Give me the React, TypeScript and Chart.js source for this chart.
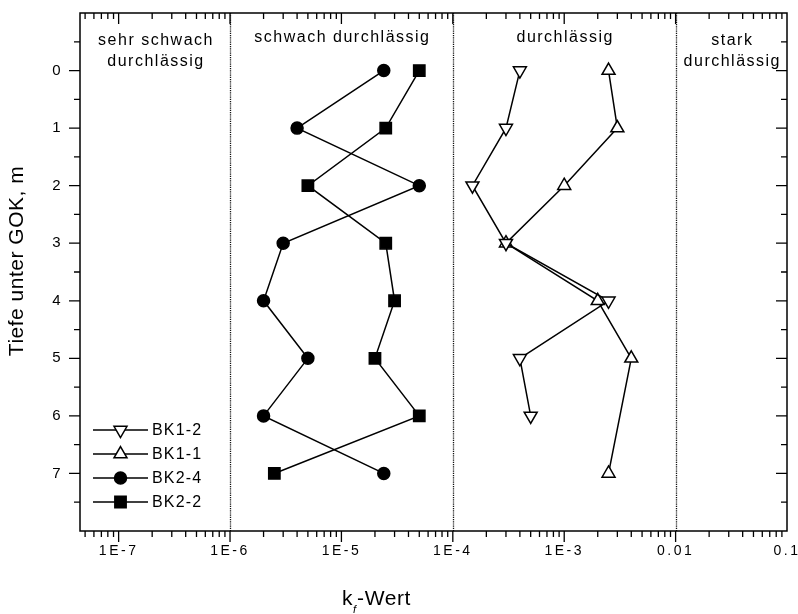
import { useEffect, useRef } from 'react';
import { Chart, registerables } from 'chart.js';
import { drawPoint } from 'chart.js/helpers';

Chart.register(...registerables);

const FONT = '"Liberation Sans", Arial, Helvetica, sans-serif';

// ---- data ----
const seriesLabels = ['BK1-2', 'BK1-1', 'BK2-4', 'BK2-2'];

const depthBK12 = [0, 1, 2, 3, 4, 5, 6];
const kfBK12 = [4e-4, 3e-4, 1.5e-4, 3e-4, 2.5e-3, 4e-4, 5e-4];

const depthBK11 = [0, 1, 2, 3, 4, 5, 7];
const kfBK11 = [2.5e-3, 3e-3, 1e-3, 3e-4, 2e-3, 4e-3, 2.5e-3];

const depthBK24 = [0, 1, 2, 3, 4, 5, 6, 7];
const kfBK24 = [2.4e-5, 4e-6, 5e-5, 3e-6, 2e-6, 5e-6, 2e-6, 2.4e-5];

const depthBK22 = [0, 1, 2, 3, 4, 5, 6, 7];
const kfBK22 = [5e-5, 2.5e-5, 5e-6, 2.5e-5, 3e-5, 2e-5, 5e-5, 2.5e-6];

const xTickValues = [1e-7, 1e-6, 1e-5, 1e-4, 1e-3, 1e-2, 1e-1];
const xTickLabels = ['1E-7', '1E-6', '1E-5', '1E-4', '1E-3', '0.01', '0.1'];
const yTickValues = [0, 1, 2, 3, 4, 5, 6, 7];
const yTickLabels = ['0', '1', '2', '3', '4', '5', '6', '7'];

const xMin = 4.5e-8;
const xMax = 0.1;
const yMin = -1;
const yMax = 8;

const boundaryValues = [1e-6, 1e-4, 1e-2];
const regionEdges = [xMin, 1e-6, 1e-4, 1e-2, xMax];
const regionLabels = [
  ['sehr schwach', 'durchlässig'],
  ['schwach durchlässig'],
  ['durchlässig'],
  ['stark', 'durchlässig'],
];

const yTitle = 'Tiefe unter GOK, m';
const xTitleMain = 'k';
const xTitleSub = 'f';
const xTitleRest = '-Wert';

const toPts = (xs: number[], ys: number[]) => xs.map((x, i) => ({ x, y: ys[i] }));

const zeroPad = (s: any) => {
  s.paddingTop = 0;
  s.paddingBottom = 0;
  s.paddingLeft = 0;
  s.paddingRight = 0;
};

const plotDecor = {
  id: 'plotDecor',
  beforeDraw(chart: any) {
    chart.ctx.letterSpacing = '2.5px';
  },
  beforeDatasetsDraw(chart: any) {
    const { ctx, chartArea } = chart;
    const xs = chart.scales.x;
    ctx.save();
    ctx.letterSpacing = '0px';
    ctx.strokeStyle = '#111';
    ctx.lineWidth = 1.3;
    ctx.setLineDash([1.2, 1]);
    boundaryValues.forEach((v) => {
      const px = Math.round(xs.getPixelForValue(v)) + 0.5;
      ctx.beginPath();
      ctx.moveTo(px, chartArea.top);
      ctx.lineTo(px, chartArea.bottom);
      ctx.stroke();
    });
    ctx.restore();
  },
  afterDatasetsDraw(chart: any) {
    const { ctx, chartArea } = chart;
    const xs = chart.scales.x;
    const ys = chart.scales.y;
    const { left, right, top, bottom } = chartArea;
    ctx.save();
    ctx.letterSpacing = '0px';
    ctx.strokeStyle = '#000';
    ctx.lineWidth = 1.5;
    ctx.setLineDash([]);
    ctx.strokeRect(left, top, right - left, bottom - top);
    ctx.lineWidth = 1.3;
    const MAJ = 11;
    const MIN = 6;
    for (let d = -8; d <= -1; d++) {
      for (let m = 1; m <= 9; m++) {
        const v = m * Math.pow(10, d);
        if (v <= xMin * 1.0001 || v >= xMax * 0.9999) continue;
        const px = xs.getPixelForValue(v);
        const len = m === 1 ? MAJ : MIN;
        ctx.beginPath();
        ctx.moveTo(px, bottom);
        ctx.lineTo(px, bottom + len);
        ctx.moveTo(px, top);
        ctx.lineTo(px, top + len);
        ctx.stroke();
      }
    }
    for (let v = yMin + 0.5; v < yMax; v += 0.5) {
      const py = ys.getPixelForValue(v);
      const len = Number.isInteger(v) ? MAJ : MIN;
      ctx.beginPath();
      ctx.moveTo(left - len, py);
      ctx.lineTo(left, py);
      ctx.moveTo(right - len, py);
      ctx.lineTo(right, py);
      ctx.stroke();
    }
    ctx.restore();
  },
  afterDraw(chart: any) {
    const { ctx } = chart;
    const xs = chart.scales.x;
    ctx.save();
    ctx.fillStyle = '#000';
    ctx.font = `16px ${FONT}`;
    ctx.letterSpacing = '1.5px';
    ctx.textAlign = 'center';
    ctx.textBaseline = 'alphabetic';
    regionLabels.forEach((lines, i) => {
      const a = Math.log10(regionEdges[i]);
      const b = Math.log10(regionEdges[i + 1]);
      const cx = xs.getPixelForValue(Math.pow(10, (a + b) / 2)) + 1;
      if (lines.length === 1) {
        ctx.fillText(lines[0], cx, 42);
      } else {
        ctx.fillText(lines[0], cx, 45);
        ctx.fillText(lines[1], cx, 66);
      }
    });

    const rows = [430, 454, 478, 502];
    chart.data.datasets.forEach((ds: any, i: number) => {
      const y = rows[i];
      ctx.strokeStyle = '#000';
      ctx.lineWidth = 1.5;
      ctx.beginPath();
      ctx.moveTo(93, y);
      ctx.lineTo(148, y);
      ctx.stroke();
      ctx.fillStyle = ds.pointBackgroundColor;
      ctx.strokeStyle = '#000';
      ctx.lineWidth = 1.5;
      drawPoint(ctx, {
        pointStyle: ds.pointStyle,
        rotation: ds.pointRotation || 0,
        radius: ds.pointRadius,
        borderWidth: 1.5,
      } as any, 120.5, y);
      ctx.fillStyle = '#000';
      ctx.font = `16px ${FONT}`;
      ctx.letterSpacing = '1.2px';
      ctx.textAlign = 'left';
      ctx.textBaseline = 'middle';
      ctx.fillText(ds.label, 152, y + 1);
    });

    ctx.save();
    ctx.translate(17, 261);
    ctx.rotate(-Math.PI / 2);
    ctx.font = `21px ${FONT}`;
    ctx.letterSpacing = '0.5px';
    ctx.textAlign = 'center';
    ctx.textBaseline = 'middle';
    ctx.fillText(yTitle, 0, 0);
    ctx.restore();

    ctx.font = `21px ${FONT}`;
    ctx.letterSpacing = '0.5px';
    ctx.textAlign = 'left';
    ctx.textBaseline = 'alphabetic';
    const x0 = 342;
    const base = 605;
    ctx.fillText(xTitleMain, x0, base);
    const kw = ctx.measureText(xTitleMain).width;
    ctx.font = `italic 11px ${FONT}`;
    ctx.letterSpacing = '0px';
    ctx.fillText(xTitleSub, x0 + kw, base + 8);
    const fw = ctx.measureText(xTitleSub).width;
    ctx.font = `21px ${FONT}`;
    ctx.letterSpacing = '0.6px';
    ctx.fillText(xTitleRest, x0 + kw + fw + 1, base);
    ctx.restore();
    ctx.letterSpacing = '0px';
  },
};

export default function App() {
  const ref = useRef<HTMLCanvasElement>(null);
  useEffect(() => {
    const common = {
      showLine: true,
      borderColor: '#000',
      borderWidth: 1.5,
      pointBorderColor: '#000',
      pointBorderWidth: 1.5,
      fill: false,
      tension: 0,
    };
    const chart = new Chart(ref.current as HTMLCanvasElement, {
      type: 'scatter',
      data: {
        datasets: [
          { ...common, label: seriesLabels[0], data: toPts(kfBK12, depthBK12), pointStyle: 'triangle', pointRotation: 180, pointRadius: 7.5, pointBackgroundColor: '#fff' },
          { ...common, label: seriesLabels[1], data: toPts(kfBK11, depthBK11), pointStyle: 'triangle', pointRotation: 0, pointRadius: 7.5, pointBackgroundColor: '#fff' },
          { ...common, label: seriesLabels[2], data: toPts(kfBK24, depthBK24), pointStyle: 'circle', pointRadius: 6, pointBackgroundColor: '#000' },
          { ...common, label: seriesLabels[3], data: toPts(kfBK22, depthBK22), pointStyle: 'rect', pointRadius: 8, pointBackgroundColor: '#000' },
        ] as any,
      },
      plugins: [plotDecor],
      options: {
        animation: false,
        responsive: false,
        devicePixelRatio: 1,
        events: [],
        layout: { padding: { top: 13, right: 11, left: 0, bottom: 0 } },
        plugins: {
          legend: { display: false },
          tooltip: { enabled: false },
          title: { display: false },
        },
        scales: {
          x: {
            type: 'logarithmic',
            position: 'bottom',
            min: xMin,
            max: xMax,
            grid: { display: false, drawTicks: false },
            border: { display: false },
            afterBuildTicks: (s: any) => {
              s.ticks = xTickValues.map((v) => ({ value: v }));
            },
            afterFit: (s: any) => {
              s.height = 83;
              zeroPad(s);
            },
            ticks: {
              autoSkip: false,
              maxRotation: 0,
              minRotation: 0,
              padding: 12,
              color: '#000',
              font: { family: FONT, size: 14 },
              callback: (_v: any, i: number) => xTickLabels[i],
            },
          },
          y: {
            type: 'linear',
            position: 'left',
            reverse: true,
            min: yMin,
            max: yMax,
            grid: { display: false, drawTicks: false },
            border: { display: false },
            afterBuildTicks: (s: any) => {
              s.ticks = yTickValues.map((v) => ({ value: v }));
            },
            afterFit: (s: any) => {
              s.width = 80;
              zeroPad(s);
            },
            ticks: {
              autoSkip: false,
              padding: 17,
              color: '#000',
              font: { family: FONT, size: 15 },
              callback: (_v: any, i: number) => yTickLabels[i],
            },
          },
        },
      } as any,
    });
    return () => chart.destroy();
  }, []);
  return (
    <div style={{ position: 'fixed', left: 0, top: 0, width: 798, height: 614, background: '#fff' }}>
      <canvas ref={ref} width={798} height={614} style={{ display: 'block', width: 798, height: 614 }} />
    </div>
  );
}
